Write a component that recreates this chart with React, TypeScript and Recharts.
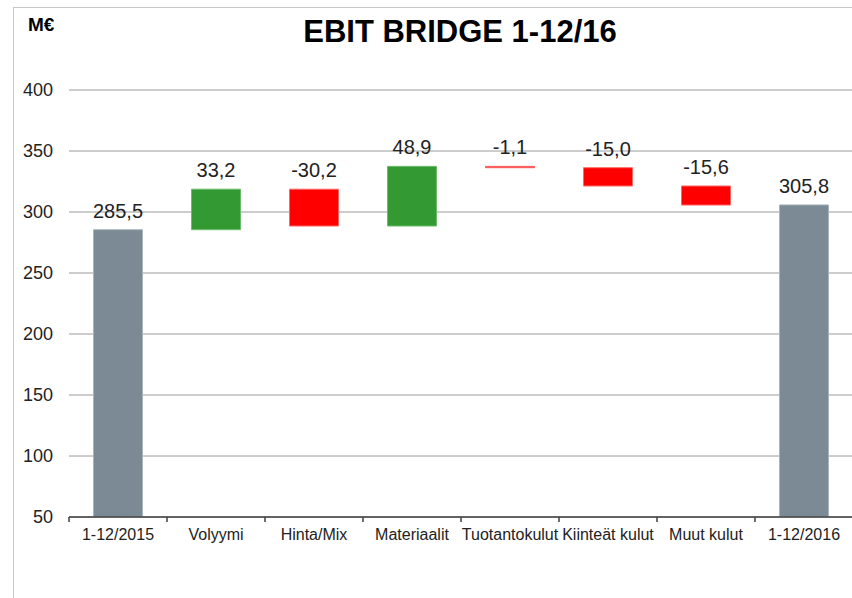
import React from "react";
import { Bar, BarChart, CartesianGrid, Cell, LabelList, XAxis, YAxis } from "recharts";

// categories and values
const categories = [
  "1-12/2015", "Volyymi", "Hinta/Mix", "Materiaalit",
  "Tuotantokulut", "Kiinteät kulut", "Muut kulut", "1-12/2016",
];
const values = [285.5, 33.2, -30.2, 48.9, -1.1, -15.0, -15.6, 305.8];
const isTotal = [true, false, false, false, false, false, false, true];
const yTicks = [50, 100, 150, 200, 250, 300, 350, 400];

const Y_MIN = 50;
const Y_MAX = 400;

const CHART_W = 860;
const CHART_H = 598;
const MARGIN = { top: 90, right: 7, left: 0, bottom: 51 };
const Y_AXIS_W = 69;
const HALF_BAND = (CHART_W - MARGIN.left - MARGIN.right - Y_AXIS_W) / categories.length / 2;

const GRAY = "#7B8A94";
const GREEN = "#339933";
const RED = "#FF0000";

type Row = { name: string; base: number; size: number; label: string; color: string; edge: string };

const fmt = (v: number) => v.toFixed(1).replace(".", ",");

function buildRows(): Row[] {
  let running = 0;
  return categories.map((name, i) => {
    const v = values[i];
    if (isTotal[i]) {
      running = v;
      return { name, base: Y_MIN, size: v - Y_MIN, label: fmt(v), color: GRAY, edge: "#A9B4BB" };
    }
    const start = running;
    running += v;
    const up = v >= 0;
    return {
      name,
      base: Math.min(start, running),
      size: Math.abs(v),
      label: fmt(v),
      color: up ? GREEN : RED,
      edge: up ? "#6DBB6D" : "#FF6666",
    };
  });
}

const rows = buildRows();

function XTick(props: any) {
  const { x, y, payload } = props;
  return (
    <g>
      <line x1={x - HALF_BAND} x2={x - HALF_BAND} y1={y} y2={y + 5} stroke="#404040" strokeWidth={1.5} />
      <text x={x} y={y + 23} textAnchor="middle" fontSize={16} fill="#222"
        fontFamily="'Liberation Sans', Arial, sans-serif">
        {payload.value}
      </text>
    </g>
  );
}

function TopLabel(props: any) {
  const { x, y, width, height, value } = props;
  const top = Math.min(y, y + height);
  return (
    <text x={x + width / 2} y={top - 12} textAnchor="middle" fontSize={20} fill="#222"
      fontFamily="'Liberation Sans', Arial, sans-serif">
      {value}
    </text>
  );
}

export default function App() {
  return (
    <div style={{ position: "absolute", left: 0, top: 0, width: 852, height: 598, overflow: "hidden", background: "#fff" }}>
      <div style={{ position: "absolute", left: 13, top: 7, width: 900, height: 700, border: "1px solid #c8c8c8" }} />
      <div style={{ position: "absolute", left: 0, top: 0 }}>
        <BarChart width={CHART_W} height={CHART_H} data={rows} margin={MARGIN} barCategoryGap="25%">
          <CartesianGrid vertical={false} stroke="#9a9a9a" />
          <XAxis dataKey="name" height={30} tickSize={0} tickMargin={0} tick={<XTick />}
            axisLine={{ stroke: "#404040", strokeWidth: 1.5 }} interval={0} />
          <YAxis domain={[Y_MIN, Y_MAX]} allowDataOverflow ticks={yTicks} width={Y_AXIS_W} axisLine={false}
            tickLine={false} tickSize={6} tickMargin={10}
            tick={{ fontSize: 18, fill: "#222", fontFamily: "'Liberation Sans', Arial, sans-serif" }} />
          <Bar dataKey="base" stackId="w" fill="transparent" isAnimationActive={false} />
          <Bar dataKey="size" stackId="w" isAnimationActive={false} strokeWidth={1}>
            {rows.map((r) => (
              <Cell key={r.name} fill={r.color} stroke={r.edge} />
            ))}
            <LabelList dataKey="label" content={<TopLabel />} />
          </Bar>
        </BarChart>
      </div>
      <svg width={852} height={598} style={{ position: "absolute", left: 0, top: 0, pointerEvents: "none" }}>
        <text x={460} y={42} textAnchor="middle" fontSize={31} fontWeight="bold" fill="#000"
          fontFamily="'Liberation Sans', Arial, sans-serif">
          EBIT BRIDGE 1-12/16
        </text>
        <text x={28} y={31} fontSize={19} fontWeight="bold" fill="#000"
          fontFamily="'Liberation Sans', Arial, sans-serif">
          M€
        </text>
      </svg>
    </div>
  );
}
